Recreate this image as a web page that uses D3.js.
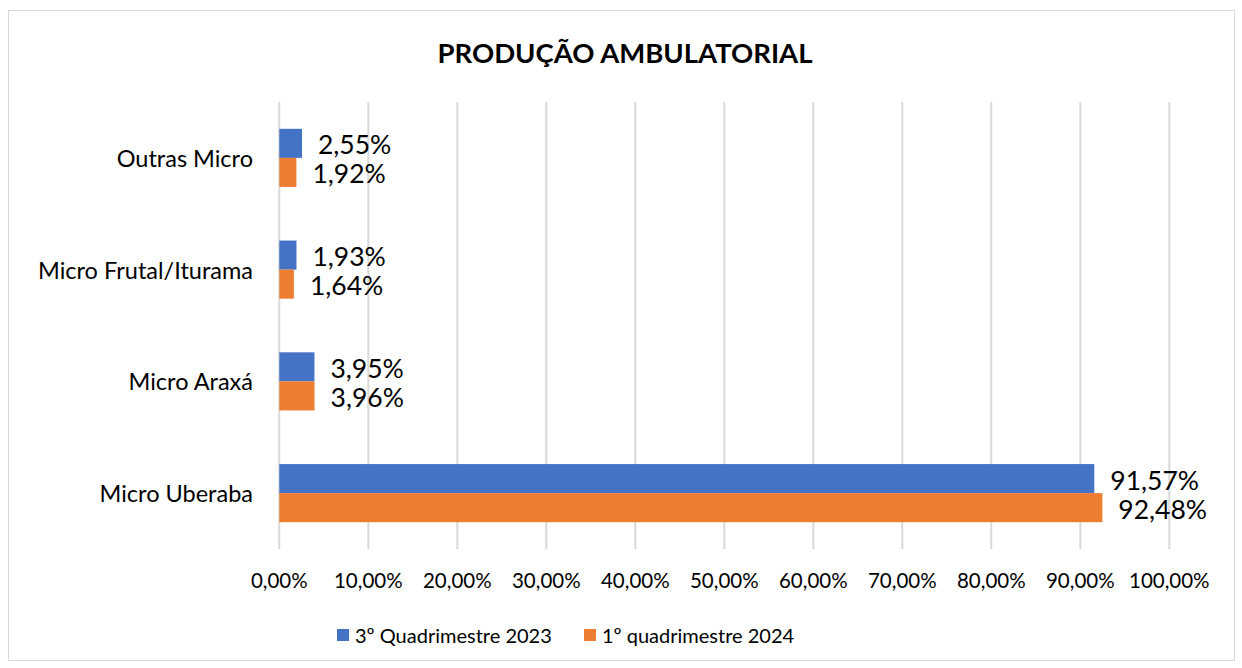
<!DOCTYPE html>
<html><head><meta charset="utf-8">
<script src="https://cdn.jsdelivr.net/npm/d3@7"></script>
<style>body{margin:0;background:#fff}svg{display:block}</style>
</head><body>
<svg id="c" width="1242" height="668"></svg>
<script>
const title = "PRODUÇÃO AMBULATORIAL";
const categories = ["Outras Micro", "Micro Frutal/Iturama", "Micro Araxá", "Micro Uberaba"];
const seriesNames = ["3º Quadrimestre 2023", "1º quadrimestre 2024"];
const series2023 = [2.55, 1.93, 3.95, 91.57];
const series2024 = [1.92, 1.64, 3.96, 92.48];
const xTicks = [0,10,20,30,40,50,60,70,80,90,100];
const colors = ["#4472C4", "#ED7D31"];

(function(){
const font = "Lato, 'Open Sans', sans-serif";
const fmt = v => v.toFixed(2).replace(".", ",") + "%";
const svg = d3.select("#c");
svg.append("rect").attr("x",8.5).attr("y",10.5).attr("width",1226).attr("height",650)
  .attr("fill","#fff").attr("stroke","#d9d9d9").attr("stroke-width",1);

const pLeft = 279.3, pRight = 1169.3, pTop = 102, pBottom = 549;
const x = d3.scaleLinear().domain([0,100]).range([pLeft,pRight]);
const y = d3.scaleBand().domain(categories).range([pTop,pBottom]).paddingInner(0.48).paddingOuter(0.24);
const yi = d3.scaleBand().domain([0,1]).range([0,y.bandwidth()]);

svg.append("text").attr("x",625).attr("y",52).attr("text-anchor","middle")
  .attr("dominant-baseline","central").attr("font-family",font).attr("font-weight","bold")
  .attr("font-size",27.5).attr("fill","#000").text(title);

svg.append("g").selectAll("line").data(xTicks).join("line")
  .attr("x1",d=>x(d)).attr("x2",d=>x(d)).attr("y1",pTop).attr("y2",pBottom)
  .attr("stroke","#d9d9d9").attr("stroke-width",2);

svg.append("g").selectAll("text").data(xTicks).join("text")
  .attr("x",d=>x(d)).attr("y",580).attr("text-anchor","middle").attr("dominant-baseline","central")
  .attr("font-family",font).attr("font-size",20.5).attr("fill","#000")
  .text(d=>d.toFixed(2).replace(".",",")+"%");

svg.append("g").selectAll("text").data(categories).join("text")
  .attr("x",253).attr("y",d=>y(d)+y.bandwidth()/2).attr("text-anchor","end")
  .attr("dominant-baseline","central").attr("font-family",font).attr("font-size",23.5).attr("fill","#000")
  .text(d=>d);

const data = [series2023, series2024];
data.forEach((vals, si) => {
  const g = svg.append("g");
  g.selectAll("rect").data(categories).join("rect")
    .attr("x",x(0)).attr("y",(d)=>y(d)+yi(si)).attr("height",yi.bandwidth())
    .attr("width",(d,i)=>x(vals[i])-x(0)).attr("fill",colors[si]);
  g.selectAll("text").data(categories).join("text")
    .attr("x",(d,i)=>x(vals[i])+16).attr("y",d=>y(d)+yi(si)+yi.bandwidth()/2+1)
    .attr("dominant-baseline","central").attr("font-family",font).attr("font-size",26.5).attr("fill","#000")
    .text((d,i)=>fmt(vals[i]));
});

const legX = [337, 584];
seriesNames.forEach((n,i)=>{
  svg.append("rect").attr("x",legX[i]).attr("y",629).attr("width",12).attr("height",12).attr("fill",colors[i]);
  svg.append("text").attr("x",legX[i]+18).attr("y",635).attr("dominant-baseline","central")
    .attr("font-family",font).attr("font-size",20).attr("fill","#000").text(n);
});
})();
</script>
</body></html>
